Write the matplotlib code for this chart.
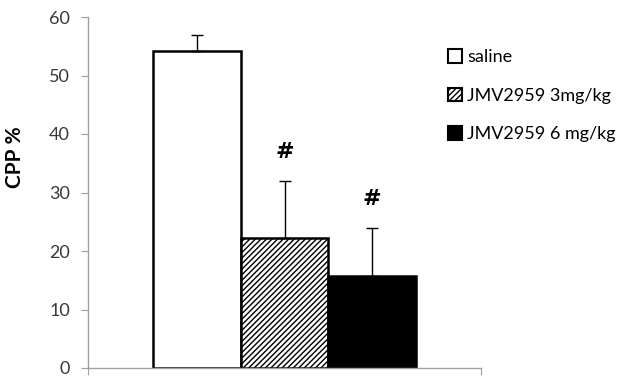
import matplotlib
matplotlib.use("Agg")
import matplotlib.pyplot as plt
from matplotlib.patches import Patch

groups = ["saline", "JMV2959 3mg/kg", "JMV2959 6 mg/kg"]
means = [54.2, 22.3, 15.8]
errors = [2.8, 9.7, 8.1]
hatches = ["", "//////", ""]
colors = ["white", "white", "black"]
signif = ["", "#", "#"]
yticks = [0, 10, 20, 30, 40, 50, 60]

plt.rcParams['font.family'] = ['Lato', 'DejaVu Sans']
plt.rcParams['hatch.linewidth'] = 1.0

fig = plt.figure(figsize=(6.25, 3.76), dpi=100)
ax = fig.add_axes([88/625, 8/376, (481-88)/625, (368-17)/376])

xs = list(range(len(groups)))
for x, m, e, h, c in zip(xs, means, errors, hatches, colors):
    ax.bar(x, m, width=1.0, color=c, edgecolor="black", linewidth=1.8,
           hatch=h, zorder=2)
    ax.errorbar(x, m, yerr=[[0], [e]], fmt="none", ecolor="black",
                elinewidth=1.0, capsize=4, capthick=1.0, zorder=3)

for x, m, e, s in zip(xs, means, errors, signif):
    if s:
        ax.text(x, m + e + 5.0, s, ha="center", va="center", fontsize=16,
                fontweight="bold", family=["DejaVu Sans"])

ax.set_xlim(-1.24, 3.24)
ax.set_ylim(0, 60)
ax.set_yticks(yticks)
ax.set_xticks([-1.24, 3.24])
ax.set_xticklabels(["", ""])
for sp in ["top", "right"]:
    ax.spines[sp].set_visible(False)
for sp in ["left", "bottom"]:
    ax.spines[sp].set_color("#a0a0a0")
    ax.spines[sp].set_linewidth(1.0)
ax.tick_params(axis="y", direction="out", length=5, color="#a0a0a0",
               labelsize=13, labelcolor="#383838", pad=8)
ax.tick_params(axis="x", direction="out", length=5, color="#a0a0a0")
ax.set_ylabel("CPP %", fontsize=15, fontweight="bold")
ax.yaxis.set_label_coords(-0.16, 0.6)

handles = [Patch(facecolor=c, edgecolor="black", hatch=h, linewidth=1.5)
           for c, h in zip(colors, hatches)]
fig.legend(handles, groups, loc="upper left", bbox_to_anchor=(441/625, 1-42/376),
           frameon=False, fontsize=13, handlelength=0.75, handleheight=0.75,
           handletextpad=0.3, labelspacing=1.25, borderaxespad=0)

fig.savefig("out.png", dpi=100)
